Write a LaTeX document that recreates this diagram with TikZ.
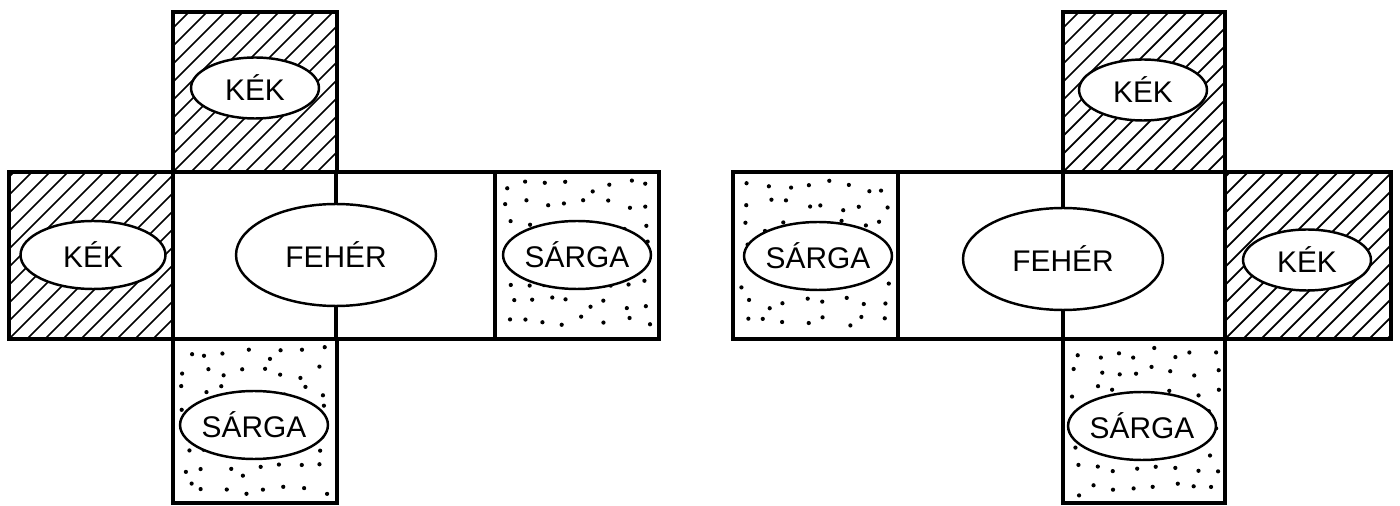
\documentclass[tikz,border=0pt]{standalone}
\usepackage{fontspec}
\newfontfamily\lettering{Liberation Sans}
\usepackage{tikz}
\usetikzlibrary{shapes.geometric}

\begin{document}
\begin{tikzpicture}[
    x=0.02cm, y=-0.02cm,
    face/.style={draw,line width=2.1pt,line join=miter},
    hatch/.style={line width=1pt},
    oval/.style={ellipse,draw,fill=white,line width=1.4pt,inner sep=0pt,font=\lettering\fontsize{17}{20}\selectfont},
    small/.style={oval,minimum width=2.56cm,minimum height=1.22cm},
    mid/.style={oval,minimum width=2.9cm,minimum height=1.36cm},
    big/.style={oval,minimum width=4cm,minimum height=2.04cm}
]
\useasboundingbox (0,0) rectangle (1400,506);
% kek faces: hatching
\foreach \xa/\ya/\xb/\yb in {173/12/337/172, 9/172/173/339, 1225/172/1391/339, 1063/12/1225/172} {
  \begin{scope}
    \clip (\xa,\ya) rectangle (\xb,\yb);
    \foreach \d in {-180,-162,...,180}
      \draw[hatch] (\xa+\d,\yb) -- ++(200,-200);
  \end{scope}
  \draw[face] (\xa,\ya) rectangle (\xb,\yb);
}
% sarga faces: stipple
\pgfmathsetseed{11}
\foreach \xa/\ya/\xb/\yb in {495/172/659/339, 173/339/337/503, 733/172/898/339, 1063/339/1225/503} {
  \foreach \i in {0,...,7}
    \foreach \j in {0,...,7}
      \fill ({\xa+8+\i*19.5+rnd*12},{\ya+8+\j*19.5+rnd*12}) circle (1.2pt);
  \draw[face] (\xa,\ya) rectangle (\xb,\yb);
}
% feher faces
\draw[face] (173,172) rectangle (495,339);
\draw[face] (898,172) rectangle (1225,339);

% left net
\node[small] (kekL1) at (255,88) {KÉK};
\node[mid] (kekL2) at (93,255) {KÉK};
\node[big] (feherL) at (336,255) {FEHÉR};
\node[mid] (sargaL1) at (577,255) {SÁRGA};
\node[mid] (sargaL2) at (254,425) {SÁRGA};
% right net
\node[small] (kekR1) at (1143,90) {KÉK};
\node[mid] (sargaR1) at (818,256) {SÁRGA};
\node[big] (feherR) at (1063,259) {FEHÉR};
\node[small] (kekR2) at (1307,260) {KÉK};
\node[mid] (sargaR2) at (1142,426) {SÁRGA};

% split lines of the white faces
\draw[face] (feherL.north) -- (feherL.north |- 0,172);
\draw[face] (feherL.south) -- (feherL.south |- 0,339);
\draw[face] (feherR.north) -- (feherR.north |- 0,172);
\draw[face] (feherR.south) -- (feherR.south |- 0,339);
\end{tikzpicture}
\end{document}
